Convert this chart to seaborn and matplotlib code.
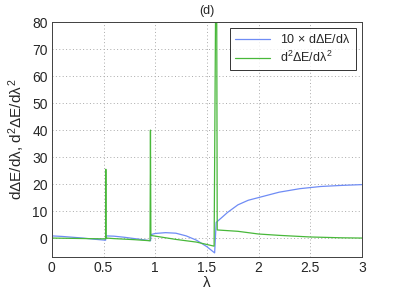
import numpy as np
import pandas as pd
import matplotlib
matplotlib.use('Agg')
import matplotlib.pyplot as plt
import seaborn as sns

# 10 x dDeltaE/dlambda (blauw)
x_blue = [0, 0.1, 0.2, 0.3, 0.4, 0.52, 0.525, 0.6, 0.7, 0.8, 0.9, 0.955, 0.96, 1.0, 1.1,
          1.2, 1.3, 1.4, 1.5, 1.575, 1.59, 1.65, 1.7, 1.8, 1.9, 2.0, 2.2, 2.4, 2.6, 2.8, 3.0]
y_blue = [0.8, 0.6, 0.3, 0.0, -0.4, -0.8, 0.8, 0.7, 0.3, -0.2, -0.7, -1.0, 1.3, 1.7, 2.0,
          1.8, 0.8, -0.8, -3.2, -5.5, 5.8, 7.8, 9.5, 12.3, 14.0, 15.0, 17.0, 18.3, 19.1, 19.5, 19.8]

# d2 DeltaE / dlambda2 (groen)
x_green = [0, 0.52, 0.522, 0.524, 0.6, 0.8, 0.95, 0.954, 0.958, 0.97, 1.2, 1.4, 1.57,
           1.585, 1.595, 1.6, 1.8, 2.0, 2.2, 2.5, 2.8, 3.0]
y_green = [0.0, -0.3, 25.5, 0.0, -0.2, -0.6, -1.0, 40.0, 1.0, 0.9, -0.5, -1.5, -3.0,
           90.0, 90.0, 3.0, 2.5, 1.5, 1.0, 0.4, 0.1, 0.0]

x_ticks = [0, 0.5, 1, 1.5, 2, 2.5, 3]
x_ticklabels = ['0', '0.5', '1', '1.5', '2', '2.5', '3']
y_ticks = [0, 10, 20, 30, 40, 50, 60, 70, 80]

sns.set_style('white')
plt.rcParams['font.family'] = ['Liberation Sans', 'DejaVu Sans']
plt.rcParams['mathtext.fontset'] = 'custom'
plt.rcParams['mathtext.rm'] = 'Liberation Sans'
plt.rcParams['mathtext.it'] = 'Liberation Sans'

fig = plt.figure(figsize=(3.99, 2.91), dpi=100)
ax = fig.add_axes([0.130, 0.117, 0.777, 0.807])

sns.lineplot(x=x_blue, y=y_blue, ax=ax, color='#6f8cf5', linewidth=0.9, sort=False,
             estimator=None, label=r'10 $\times$ d$\Delta$E/d$\lambda$')
sns.lineplot(x=x_green, y=y_green, ax=ax, color='#48b83a', linewidth=0.9, sort=False,
             estimator=None, label=r'd$^2\Delta$E/d$\lambda^2$')

ax.set_xlim(0, 3)
ax.set_ylim(-7, 80)
ax.set_xticks(x_ticks)
ax.set_xticklabels(x_ticklabels)
ax.set_yticks(y_ticks)
ax.tick_params(direction='in', length=3, labelsize=10, width=0.6, pad=3)
ax.grid(True, linestyle=(0, (1, 2.5)), color='#aaaaaa', linewidth=0.7)

for s in ax.spines.values():
    s.set_color('#404040')
    s.set_linewidth(0.7)

ax.set_xlabel(r'$\lambda$', fontsize=11, labelpad=0)
ax.set_ylabel(r'd$\Delta$E/d$\lambda$, d$^2\Delta$E/d$\lambda^2$', fontsize=11, labelpad=4)
ax.set_title('(d)', fontsize=9, pad=6)

leg = ax.legend(loc='upper right', fontsize=9, frameon=True, fancybox=False,
                handlelength=2.8, borderaxespad=0.5, labelspacing=0.3)
leg.get_frame().set_edgecolor('black')
leg.get_frame().set_linewidth(0.7)

fig.savefig('out.png', dpi=100)
